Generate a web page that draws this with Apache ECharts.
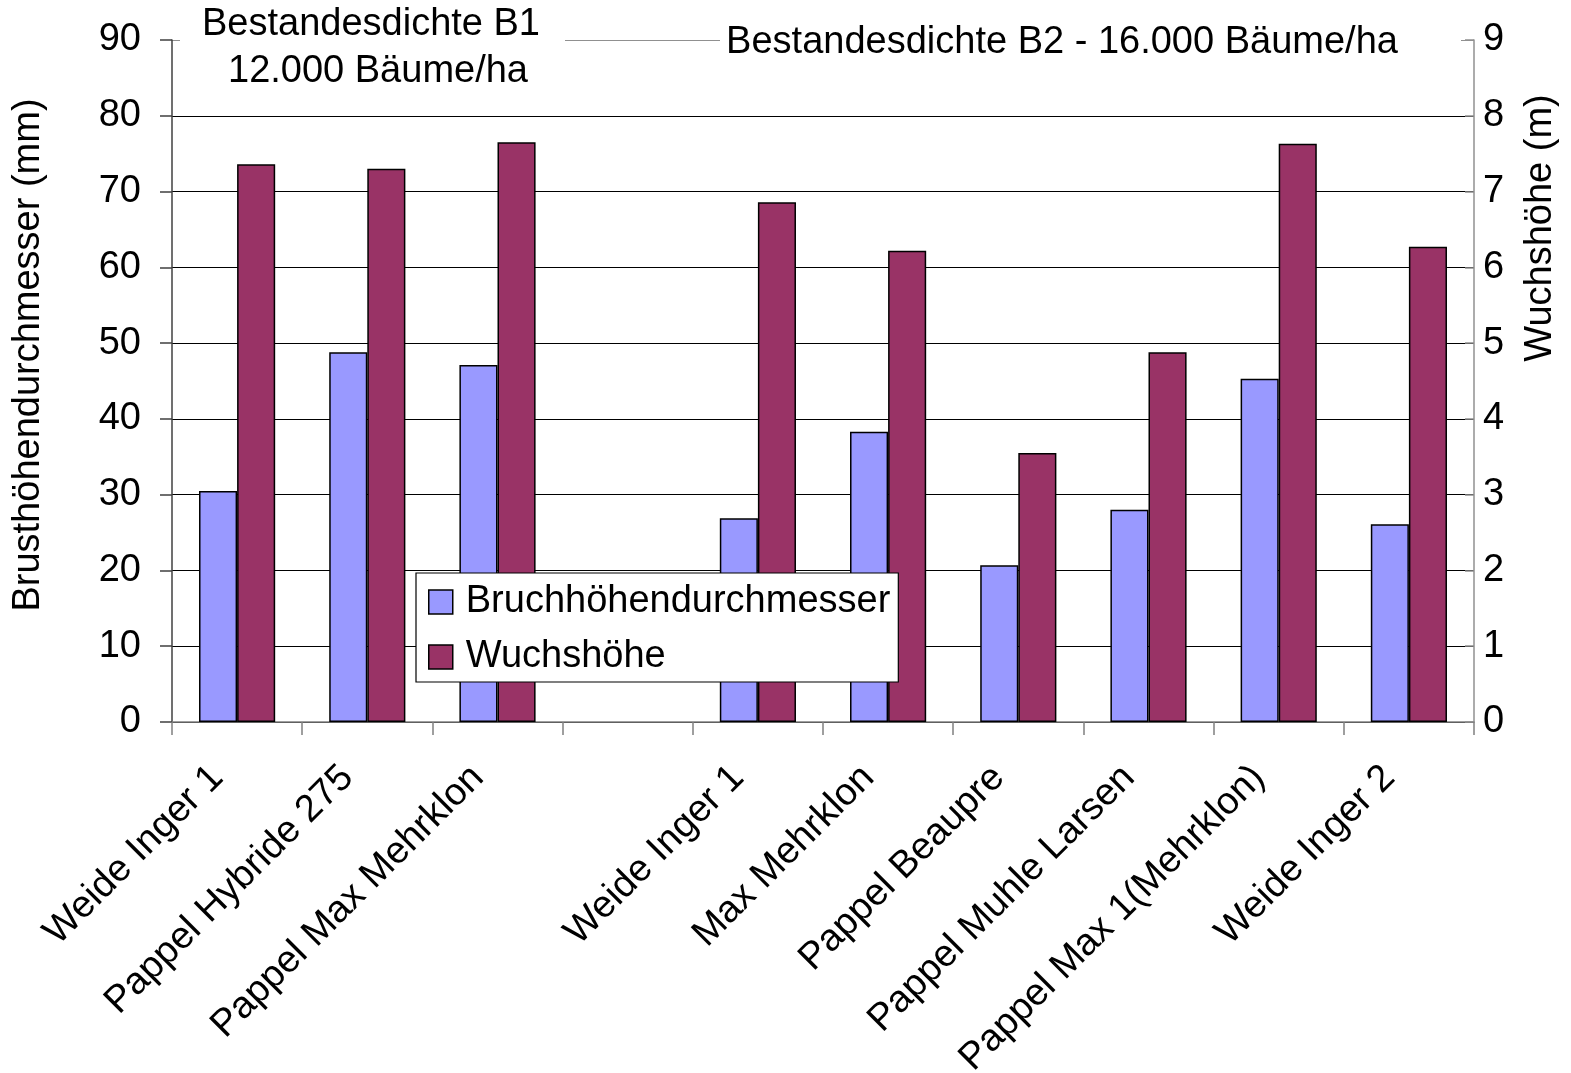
<!DOCTYPE html>
<html><head><meta charset="utf-8">
<script src="https://cdn.jsdelivr.net/npm/echarts@6/dist/echarts.min.js"></script>
<style>html,body{margin:0;padding:0;background:#fff}#c{width:1571px;height:1073px}</style>
</head><body><div id="c"></div>
<script>
const categories = ["Weide Inger 1","Pappel Hybride 275","Pappel Max Mehrklon","","Weide Inger 1","Max Mehrklon","Pappel Beaupre","Pappel Muhle Larsen","Pappel Max 1(Mehrklon)","Weide Inger 2"];
const durchmesser = [30.5, 48.8, 47.1, null, 26.9, 38.3, 20.7, 28.0, 45.3, 26.1];
const wuchshoehe = [7.36, 7.30, 7.65, null, 6.86, 6.22, 3.55, 4.88, 7.63, 6.27];
const leftTicks = [0,10,20,30,40,50,60,70,80,90];
const rightTicks = [0,1,2,3,4,5,6,7,8,9];

const F = 'Liberation Sans, Arial, sans-serif';
const FS = 38;
const chart = echarts.init(document.getElementById('c'));
chart.setOption({
  animation: false,
  backgroundColor: '#fff',
  textStyle: {fontFamily: F, color: '#000'},
  grid: {left: 172, right: 97, top: 40, bottom: 351, containLabel: false, outerBoundsMode: 'none'},
  legend: {
    orient: 'vertical', left: 416, top: 573,
    padding: [10, 8, 6, 12],
    backgroundColor: '#fff', borderColor: '#000', borderWidth: 1.2,
    itemWidth: 24, itemHeight: 24, itemGap: 17,
    icon: 'rect',
    textStyle: {fontFamily: F, fontSize: FS, color: '#000', padding: [0, 0, 0, 8]},
    itemStyle: {borderColor: '#000', borderWidth: 1.5},
    data: ['Bruchhöhendurchmesser', 'Wuchshöhe']
  },
  xAxis: {
    type: 'category', data: categories,
    axisLine: {show: true, lineStyle: {color: '#808080', width: 1.5}},
    axisTick: {show: true, length: 13, lineStyle: {color: '#808080', width: 1.5}},
    axisLabel: {rotate: 45, fontFamily: F, fontSize: FS, color: '#000', margin: 30, interval: 0, padding: [0, 28, 0, 0]},
    splitLine: {show: false}
  },
  yAxis: [{
    type: 'value', min: leftTicks[0], max: leftTicks[leftTicks.length-1], interval: 10,
    position: 'left',
    axisLine: {show: true, lineStyle: {color: '#404040', width: 1.5}},
    axisTick: {show: true, length: 12, lineStyle: {color: '#404040', width: 1.5}},
    axisLabel: {fontFamily: F, fontSize: FS, color: '#000', margin: 31},
    splitLine: {show: true, lineStyle: {color: ['#000','#000','#000','#000','#000','#000','#000','#000','#000','#909090'], width: 1.2}}
  }, {
    type: 'value', min: rightTicks[0], max: rightTicks[rightTicks.length-1], interval: 1,
    position: 'right',
    axisLine: {show: true, lineStyle: {color: '#909090', width: 1.5}},
    axisTick: {show: true, inside: true, length: 9, lineStyle: {color: '#909090', width: 1.5}},
    axisLabel: {fontFamily: F, fontSize: FS, color: '#000', margin: 9},
    splitLine: {show: false}
  }],
  series: [{
    name: 'Bruchhöhendurchmesser', type: 'bar', yAxisIndex: 0, data: durchmesser,
    barGap: '0%', barCategoryGap: '41.5%',
    itemStyle: {color: '#9999FF', borderColor: '#000', borderWidth: 1.5}
  }, {
    name: 'Wuchshöhe', type: 'bar', yAxisIndex: 1, data: wuchshoehe,
    barGap: '0%', barCategoryGap: '41.5%',
    itemStyle: {color: '#993366', borderColor: '#000', borderWidth: 1.5}
  }],
  graphic: [
    {type: 'rect', z: 100, shape: {x: 180, y: 0, width: 385, height: 98}, style: {fill: '#fff'}},
    {type: 'rect', z: 100, shape: {x: 720, y: 18, width: 741, height: 50}, style: {fill: '#fff'}},
    {type: 'text', z: 101, x: 371, y: 25, style: {text: 'Bestandesdichte B1', font: FS + 'px ' + F, fill: '#000', textAlign: 'center', textVerticalAlign: 'middle'}},
    {type: 'text', z: 101, x: 378, y: 72, style: {text: '12.000 Bäume/ha', font: FS + 'px ' + F, fill: '#000', textAlign: 'center', textVerticalAlign: 'middle'}},
    {type: 'text', z: 101, x: 1062, y: 43, style: {text: 'Bestandesdichte B2 - 16.000 Bäume/ha', font: FS + 'px ' + F, fill: '#000', textAlign: 'center', textVerticalAlign: 'middle'}},
    {type: 'text', z: 101, x: 29, y: 355, rotation: Math.PI/2, style: {text: 'Brusthöhendurchmesser (mm)', font: FS + 'px ' + F, fill: '#000', textAlign: 'center', textVerticalAlign: 'middle'}},
    {type: 'text', z: 101, x: 1541, y: 228, rotation: Math.PI/2, style: {text: 'Wuchshöhe (m)', font: FS + 'px ' + F, fill: '#000', textAlign: 'center', textVerticalAlign: 'middle'}}
  ]
});
</script></body></html>
